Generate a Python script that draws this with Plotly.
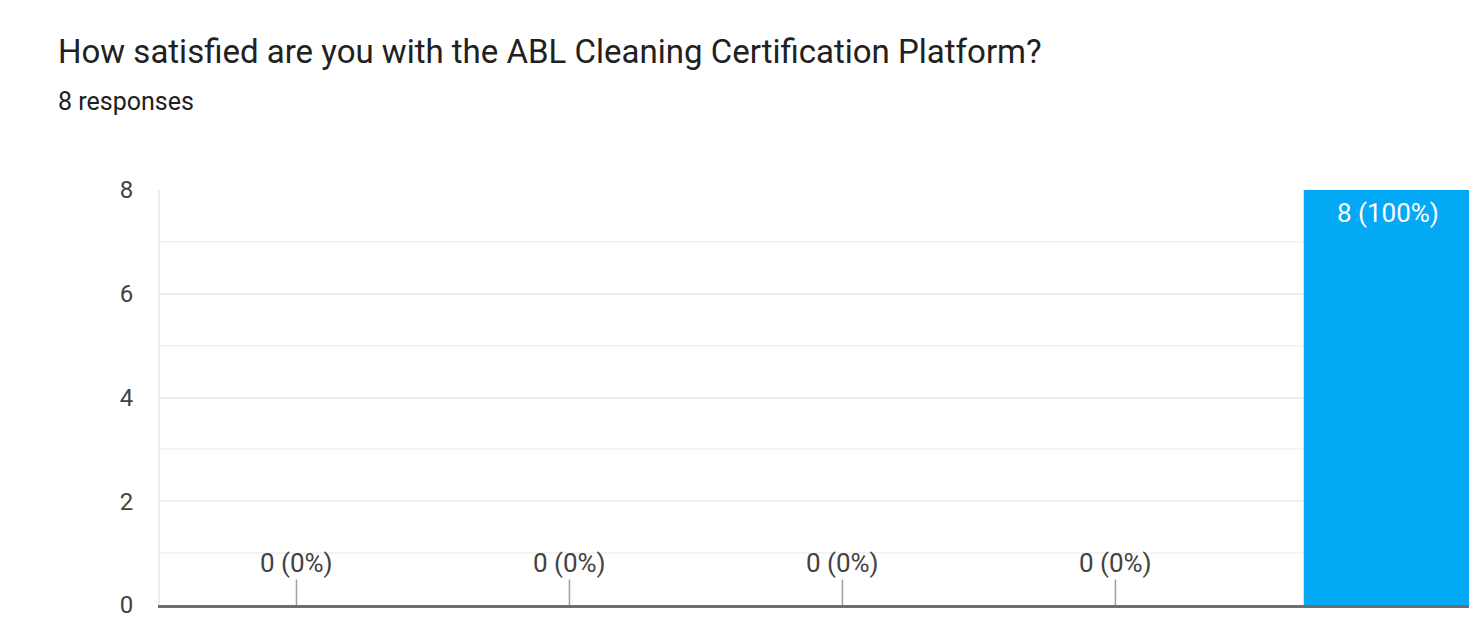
import plotly.graph_objects as go

title = "How satisfied are you with the ABL Cleaning Certification Platform?"
subtitle = "8 responses"
categories = [1, 2, 3, 4, 5]
counts = [0, 0, 0, 0, 8]
y_ticks = [0, 2, 4, 6, 8]

total = sum(counts)
labels = [f"{c} ({c / total * 100:.0f}%)" for c in counts]

# page is drawn with an 8px body offset; compensate
OFF = 8
W, H = 1477 - OFF, 622 - OFF
ml, mr, mt, mb = 160 - OFF, 4, 190 - OFF, 17
pw, ph = W - ml - mr, H - mt - mb

fig = go.Figure()
fig.add_trace(go.Bar(
    x=categories, y=counts, width=0.62,
    marker=dict(color="#03A9F4", line=dict(width=0)),
    hoverinfo="skip",
))

annotations = []
for x, c, l in zip(categories, counts, labels):
    if c == 0:
        annotations.append(dict(
            x=x, y=0, xref="x", yref="y", text=l, showarrow=True,
            ax=0, ay=-42, arrowhead=0, arrowwidth=1.5, arrowcolor="#a0a0a0",
            standoff=0, startstandoff=0,
            font=dict(family="Roboto", size=26, color="#424242"),
        ))
    else:
        annotations.append(dict(
            x=x, y=c, xref="x", yref="y", text=l, showarrow=False,
            yanchor="middle", yshift=-23,
            font=dict(family="Roboto", size=26, color="white"),
        ))

annotations.append(dict(
    x=(56 - OFF - ml) / pw, y=(H - mb - (52 - OFF)) / ph, xref="paper", yref="paper",
    xanchor="left", yanchor="middle", showarrow=False, text=title,
    font=dict(family="Roboto", size=33, color="#212121"),
))
annotations.append(dict(
    x=(56 - OFF - ml) / pw, y=(H - mb - (101 - OFF)) / ph, xref="paper", yref="paper",
    xanchor="left", yanchor="middle", showarrow=False, text=subtitle,
    font=dict(family="Roboto", size=25, color="#212121"),
))

fig.update_layout(
    width=W, height=H,
    margin=dict(l=ml, r=mr, t=mt, b=mb),
    paper_bgcolor="white", plot_bgcolor="white",
    showlegend=False,
    annotations=annotations,
    xaxis=dict(
        range=[0.5, 5.31], showticklabels=False, ticks="",
        showgrid=False, zeroline=False,
        showline=True, linecolor="#6e6e6e", linewidth=2.5,
    ),
    yaxis=dict(
        range=[0, 8], tickvals=y_ticks, showgrid=True,
        gridcolor="#eeeeee", gridwidth=2,
        minor=dict(dtick=1, showgrid=True, gridcolor="#f3f3f3", gridwidth=1.5),
        zeroline=False, showline=True, linecolor="#ededed", linewidth=2,
        tickfont=dict(family="Roboto", size=24, color="#424242"),
        ticklabelstandoff=20,
    ),
)

fig.write_html("out.html")
